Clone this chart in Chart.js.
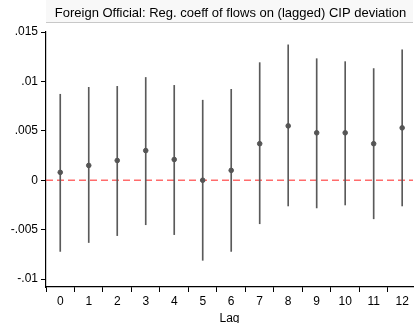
<!DOCTYPE html>
<html>
<head>
<meta charset="utf-8">
<script src="https://cdn.jsdelivr.net/npm/chart.js@4.4.1/dist/chart.umd.min.js"></script>
<style>
  html, body { margin: 0; padding: 0; background: #fff; }
  #wrap { width: 418px; height: 323px; }
</style>
</head>
<body>
<div id="wrap"><canvas id="cipChart" width="418" height="323"></canvas></div>
<script>
// data
const lags = [0, 1, 2, 3, 4, 5, 6, 7, 8, 9, 10, 11, 12];
const coeffs = [0.0008, 0.0015, 0.002, 0.003, 0.0021, 0.0, 0.001, 0.0037, 0.0055, 0.0048, 0.0048, 0.0037, 0.0053];
const upper = [0.0087, 0.0094, 0.0095, 0.0104, 0.0096, 0.0081, 0.0092, 0.0119, 0.0137, 0.0123, 0.012, 0.0113, 0.0132];
const lower = [-0.0072, -0.0063, -0.0056, -0.0045, -0.0055, -0.0081, -0.0072, -0.0044, -0.0026, -0.0028, -0.0025, -0.0039, -0.0026];
const yTicks = [0.015, 0.01, 0.005, 0, -0.005, -0.01];
const yTickLabels = ['.015', '.01', '.005', '0', '-.005', '-.01'];
const chartTitle = 'Foreign Official: Reg. coeff of flows on (lagged) CIP deviation';

const fontFamily = '"Liberation Sans", Arial, sans-serif';

// light header box with the title, over the plot region
const headerPlugin = {
  id: 'header',
  beforeDraw(chart) {
    const ctx = chart.ctx;
    const area = chart.chartArea;
    ctx.save();
    ctx.fillStyle = '#f8f8f8';
    ctx.fillRect(area.left, 0, area.right - area.left, 23);
    ctx.strokeStyle = '#c8c8c8';
    ctx.lineWidth = 1;
    ctx.beginPath();
    ctx.moveTo(area.left, 22.5);
    ctx.lineTo(area.right, 22.5);
    ctx.stroke();
    ctx.fillStyle = '#000';
    ctx.font = '13px ' + fontFamily;
    ctx.textAlign = 'center';
    ctx.textBaseline = 'middle';
    ctx.fillText(chartTitle, (area.left + area.right) / 2 + 1, 13);
    ctx.restore();
  },
};

new Chart(document.getElementById('cipChart'), {
  data: {
    datasets: [
      {
        type: 'line',
        label: 'zero',
        data: [{ x: -0.5, y: 0 }, { x: 12.38, y: 0 }],
        borderColor: 'rgba(255, 70, 70, 0.8)',
        borderWidth: 1.5,
        borderDash: [7, 4],
        pointRadius: 0,
        order: 3,
      },
      {
        type: 'bar',
        label: 'ci',
        data: lags.map((l, i) => ({ x: l, y: [lower[i], upper[i]] })),
        backgroundColor: '#5a5a5a',
        barThickness: 1,
        order: 2,
      },
      {
        type: 'scatter',
        label: 'coef',
        data: lags.map((l, i) => ({ x: l, y: coeffs[i] })),
        backgroundColor: '#555555',
        borderColor: '#555555',
        pointRadius: 2.3,
        order: 1,
      },
    ],
  },
  options: {
    responsive: false,
    animation: false,
    layout: { padding: { top: 32, right: 0, left: 0, bottom: 0 } },
    plugins: {
      legend: { display: false },
      tooltip: { enabled: false },
    },
    scales: {
      x: {
        type: 'linear',
        min: -0.5,
        max: 12.38,
        offset: false,
        grid: { drawOnChartArea: false, color: '#000', tickLength: 5 },
        border: { color: '#000', width: 1.2 },
        afterBuildTicks: (scale) => {
          scale.ticks = lags.map((v) => ({ value: v }));
        },
        afterFit: (scale) => {
          scale.height = 36;
        },
        ticks: {
          color: '#000',
          font: { family: fontFamily, size: 12 },
          padding: 2,
          maxRotation: 0,
          callback: (v) => String(v),
        },
        title: {
          display: true,
          text: 'Lag',
          color: '#000',
          font: { family: fontFamily, size: 12, lineHeight: 0.8 },
          padding: { top: 0, bottom: 0 },
        },
      },
      y: {
        min: -0.0108,
        max: 0.015,
        grid: { drawOnChartArea: false, color: '#000', tickLength: 5 },
        border: { color: '#000', width: 1.2 },
        afterBuildTicks: (scale) => {
          scale.ticks = yTicks.map((v) => ({ value: v }));
        },
        afterFit: (scale) => {
          scale.width = 46;
        },
        ticks: {
          color: '#000',
          font: { family: fontFamily, size: 12 },
          padding: 3,
          callback: (v) => {
            const i = yTicks.findIndex((t) => Math.abs(t - v) < 1e-9);
            return i >= 0 ? yTickLabels[i] : '';
          },
        },
      },
    },
  },
  plugins: [headerPlugin],
});
</script>
</body>
</html>
